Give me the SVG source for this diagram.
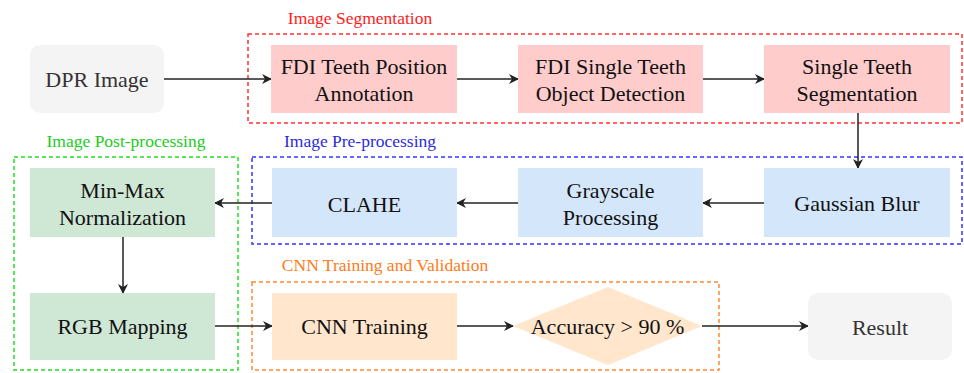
<svg xmlns="http://www.w3.org/2000/svg" width="964" height="373" viewBox="0 0 964 373">
<defs>
<style>
.t{font-family:"Liberation Serif","Times New Roman",serif;font-size:22px;fill:#111;text-anchor:middle}
.g{fill:#333}
.lbl{font-family:"Liberation Serif","Times New Roman",serif;font-size:17.5px}
.red{fill:#ffcccc}
.blue{fill:#d4e6fa}
.green{fill:#cfe7d5}
.orange{fill:#ffe6cc}
.gray{fill:#f4f4f4}
.grp{fill:none;stroke-width:1.5;stroke-dasharray:4 3}
.c{fill:none;stroke:#222;stroke-width:1.5}
</style>
<marker id="ah" viewBox="0 0 10 10" refX="9" refY="5" markerWidth="10" markerHeight="10" markerUnits="userSpaceOnUse" orient="auto">
<path d="M0,0 L10,5 L0,10 L3,5 Z" fill="#222"/>
</marker>
</defs>
<rect width="964" height="373" fill="#fff"/>

<g id="grp-seg">
<rect class="grp" x="248" y="34" width="714" height="89" stroke="#ff3333"/>
<text class="lbl" x="360" y="24" fill="#ff1a1a" text-anchor="middle">Image Segmentation</text>
</g>
<g id="grp-pre">
<rect class="grp" x="252" y="157" width="710" height="87" stroke="#3333ff"/>
<text class="lbl" x="360" y="147" fill="#2b2bd9" text-anchor="middle">Image Pre-processing</text>
</g>
<g id="grp-post">
<rect class="grp" x="14" y="157" width="224" height="213" stroke="#22dd22"/>
<text class="lbl" x="126" y="147" fill="#22cc22" text-anchor="middle">Image Post-processing</text>
</g>
<g id="grp-cnn">
<rect class="grp" x="252" y="282" width="467" height="88" stroke="#ff8833"/>
<text class="lbl" x="385" y="271" fill="#ff7a1a" text-anchor="middle">CNN Training and Validation</text>
</g>

<g id="connectors">
<line class="c" x1="164" y1="79" x2="271" y2="79" marker-end="url(#ah)"/>
<line class="c" x1="457" y1="79" x2="518" y2="79" marker-end="url(#ah)"/>
<line class="c" x1="703" y1="79" x2="764" y2="79" marker-end="url(#ah)"/>
<line class="c" x1="858" y1="113" x2="858" y2="168" marker-end="url(#ah)"/>
<line class="c" x1="764" y1="203" x2="703" y2="203" marker-end="url(#ah)"/>
<line class="c" x1="518" y1="203" x2="457" y2="203" marker-end="url(#ah)"/>
<line class="c" x1="272" y1="203" x2="215" y2="203" marker-end="url(#ah)"/>
<line class="c" x1="123" y1="237" x2="123" y2="293" marker-end="url(#ah)"/>
<line class="c" x1="215" y1="326" x2="272" y2="326" marker-end="url(#ah)"/>
<line class="c" x1="457" y1="326" x2="513" y2="326" marker-end="url(#ah)"/>
<line class="c" x1="702" y1="326" x2="808" y2="326" marker-end="url(#ah)"/>
</g>

<g id="dpr">
<rect class="gray" x="30" y="45" width="134" height="68" rx="10"/>
<text class="t g" x="97" y="87">DPR Image</text>
</g>
<g id="fdi-pos">
<rect class="red" x="271" y="45" width="186" height="68"/>
<text class="t" x="364" y="74">FDI Teeth Position</text>
<text class="t" x="364" y="101">Annotation</text>
</g>
<g id="fdi-det">
<rect class="red" x="518" y="45" width="185" height="68"/>
<text class="t" x="610.5" y="74">FDI Single Teeth</text>
<text class="t" x="610.5" y="101">Object Detection</text>
</g>
<g id="seg">
<rect class="red" x="764" y="45" width="186" height="68"/>
<text class="t" x="857" y="74">Single Teeth</text>
<text class="t" x="857" y="101">Segmentation</text>
</g>
<g id="gauss">
<rect class="blue" x="764" y="168" width="186" height="69"/>
<text class="t" x="857" y="211">Gaussian Blur</text>
</g>
<g id="gray">
<rect class="blue" x="518" y="168" width="185" height="69"/>
<text class="t" x="610.5" y="198">Grayscale</text>
<text class="t" x="610.5" y="225">Processing</text>
</g>
<g id="clahe">
<rect class="blue" x="272" y="168" width="185" height="69"/>
<text class="t" x="364.5" y="212">CLAHE</text>
</g>
<g id="minmax">
<rect class="green" x="30" y="168" width="185" height="69"/>
<text class="t" x="122.5" y="198">Min-Max</text>
<text class="t" x="122.5" y="225">Normalization</text>
</g>
<g id="rgb">
<rect class="green" x="30" y="293" width="185" height="67"/>
<text class="t" x="122.5" y="334">RGB Mapping</text>
</g>
<g id="cnn">
<rect class="orange" x="272" y="293" width="185" height="67"/>
<text class="t" x="364.5" y="334">CNN Training</text>
</g>
<g id="acc">
<polygon class="orange" points="608,287 702,326 608,365 513,326"/>
<text class="t" x="607.5" y="334">Accuracy &gt; 90 %</text>
</g>
<g id="result">
<rect class="gray" x="808" y="293" width="144" height="67" rx="10"/>
<text class="t g" x="880" y="335">Result</text>
</g>
</svg>
